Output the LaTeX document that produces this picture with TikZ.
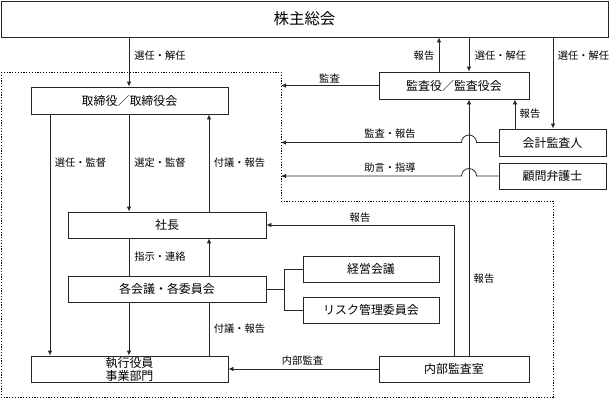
\documentclass[tikz,border=0pt]{standalone}
\usepackage{fontspec}
\setmainfont{Noto Sans CJK JP}
\usetikzlibrary{arrows.meta,calc}
\begin{document}
\begin{tikzpicture}[x=1bp,y=-1bp,
  box/.style={draw=black!85,line width=0.8bp,rectangle,inner sep=0pt,font=\fontsize{12}{13}\selectfont},
  lbl/.style={inner sep=0pt,font=\fontsize{10.3}{12}\selectfont},
  ln/.style={draw=black!85,line width=0.8bp},
  arr/.style={ln,-{Latex[length=5bp,width=4.5bp]}},
  dotline/.style={draw=black,line width=1bp,dash pattern=on 1.2bp off 1.6bp}]
\useasboundingbox (0,0) rectangle (610,398);
% dotted boundary
\coordinate (d1) at (1,72);
\coordinate (d2) at (281,72);
\coordinate (d3) at (281,201);
\coordinate (d4) at (553,201);
\coordinate (d5) at (553,397);
\coordinate (d6) at (1,397);
\draw[dotline] (d1) -- (d2) -- (d3) -- (d4) -- (d5) -- (d6) -- cycle;
% x positions
\coordinate (xa) at (50,0);
\coordinate (xb) at (129,0);
\coordinate (xc) at (209,0);
\coordinate (xk) at (469,0);
\coordinate (xr) at (439,0);
\coordinate (xs) at (553,0);
\coordinate (xm) at (515,0);
\coordinate (dx) at (281,0);
\coordinate (xbr) at (284,0);
% boxes
\node[box,minimum width=607bp,minimum height=36bp,font=\fontsize{15.5}{17}\selectfont] (top) at (304.5,19) {株主総会};
\node[box,minimum width=197bp,minimum height=27bp] (tori) at (129.5,100.5) {取締役／取締役会};
\node[box,minimum width=198bp,minimum height=26bp] (shacho) at (167,225) {社長};
\node[box,minimum width=198bp,minimum height=26bp] (kaku) at (167,289) {各会議・各委員会};
\node[box,minimum width=197bp,minimum height=26bp,align=center,font=\fontsize{12}{13}\selectfont] (shikko) at (129.5,369) {執行役員\\事業部門};
\node[box,minimum width=150bp,minimum height=27bp] (kansa) at (454,85.5) {監査役／監査役会};
\node[box,minimum width=107bp,minimum height=27bp] (kaikei) at (552.5,142.5) {会計監査人};
\node[box,minimum width=107bp,minimum height=26bp] (komon) at (552.5,176) {顧問弁護士};
\node[box,minimum width=136bp,minimum height=26bp] (keiei) at (371,269) {経営会議};
\node[box,minimum width=136bp,minimum height=26bp] (risk) at (371,310) {リスク管理委員会};
\node[box,minimum width=150bp,minimum height=26bp] (naibu) at (454,369) {内部監査室};
% connectors left
\draw[arr] (top.south -| xb) -- (tori.north -| xb);
\draw[arr] (tori.south -| xa) -- (shikko.north -| xa);
\draw[arr] (tori.south -| xb) -- (shacho.north -| xb);
\draw[arr] (shacho.north -| xc) -- (tori.south -| xc);
\draw[ln] (shacho.south -| xb) -- (kaku.north -| xb);
\draw[arr] (kaku.north -| xc) -- (shacho.south -| xc);
\draw[arr] (kaku.south -| xb) -- (shikko.north -| xb);
\draw[ln] (shikko.north -| xc) -- (kaku.south -| xc);
\draw[ln] (kaku.east) -- (kaku.east -| xbr);
\draw[ln] (keiei.west) -- (keiei.west -| xbr) -- (risk.west -| xbr) -- (risk.west);
\draw[arr] (naibu.west) -- (shikko.east);
\draw[arr] (naibu.north) |- (shacho.east);
\draw[arr] (naibu.north -| xk) -- (kansa.south -| xk);
% connectors right
\draw[arr] (kansa.north -| xr) -- (top.south -| xr);
\draw[arr] (top.south -| xk) -- (kansa.north -| xk);
\draw[arr] (top.south -| xs) -- (kaikei.north -| xs);
\draw[arr] (kaikei.north -| xm) -- (kansa.south -| xm);
\draw[arr] (kansa.west) -- (kansa.west -| dx);
\draw[arr] (kaikei.west) -- ($(kaikei.west -| xk)+(7.5,0)$) arc[start angle=0,end angle=180,radius=7.5bp] -- (kaikei.west -| dx);
\draw[arr] (komon.west) -- ($(komon.west -| xk)+(7.5,0)$) arc[start angle=0,end angle=180,radius=7.5bp] -- (komon.west -| dx);
% labels
\node[lbl] (l1) at (160,56) {選任・解任};
\node[lbl] (l2) at (80.5,163) {選任・監督};
\node[lbl] (l3) at (160,163) {選定・監督};
\node[lbl] (l4) at (239.5,163) {付議・報告};
\node[lbl] (l5) at (160,257) {指示・連絡};
\node[lbl] (l6) at (239.5,329) {付議・報告};
\node[lbl] (l7) at (302.5,361) {内部監査};
\node[lbl] (l8) at (360,218) {報告};
\node[lbl] (l9) at (484,279) {報告};
\node[lbl] (l10) at (424,56) {報告};
\node[lbl] (l11) at (500.5,56) {選任・解任};
\node[lbl] (l12) at (583.5,56) {選任・解任};
\node[lbl] (l13) at (530,114) {報告};
\node[lbl] (l14) at (329.5,78) {監査};
\node[lbl] (l15) at (390,134) {監査・報告};
\node[lbl] (l16) at (390,168) {助言・指導};
\end{tikzpicture}
\end{document}
